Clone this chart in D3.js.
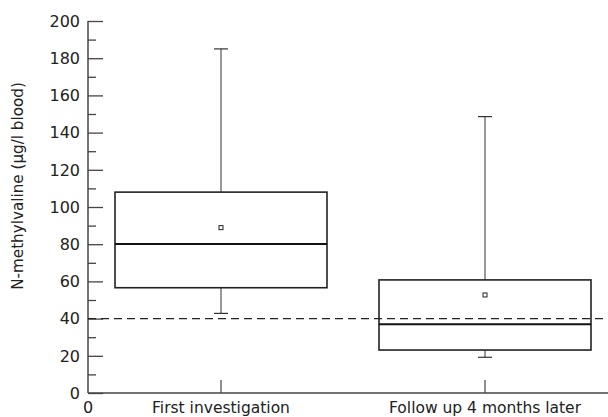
<!DOCTYPE html>
<html>
<head>
<meta charset="utf-8">
<script src="https://cdn.jsdelivr.net/npm/d3@7"></script>
<style>
body { margin: 0; background: #fff; }
text { font-family: "DejaVu Sans", sans-serif; fill: #222; }
</style>
</head>
<body>
<script>
var width = 608;
var height = 417;
var margin = {top: 21, right: 0, bottom: 24, left: 88};
var w = width - margin.left - margin.right;
var h = height - margin.top - margin.bottom;

// data
var groups = ["First investigation", "Follow up 4 months later"];
var whiskerLow = [42.8, 19.2];
var q1 = [56.6, 23.1];
var medians = [80.1, 36.9];
var q3 = [108, 60.8];
var whiskerHigh = [185, 148.6];
var means = [88.9, 52.7];
var reference = 40;
var yTicks = [0, 20, 40, 60, 80, 100, 120, 140, 160, 180, 200];

var boxes = groups.map(function(g, i) {
  return {name: g, lo: whiskerLow[i], q1: q1[i], med: medians[i], q3: q3[i], hi: whiskerHigh[i], mean: means[i]};
});

var x = d3.scaleLinear().domain([0, 1]).range([133, 397]);
var y = d3.scaleLinear().domain([0, 200]).range([h, 0]);
var boxW = 212;

var svg = d3.select("body").append("svg")
  .attr("width", width)
  .attr("height", height)
  .append("g")
  .attr("transform", "translate(" + margin.left + "," + margin.top + ")");

// y axis, ticks pointing inward
var yAxis = svg.append("g").attr("class", "y axis")
  .call(d3.axisRight(y).tickValues(yTicks).tickSize(15).tickFormat(""));
yAxis.select(".domain").remove();
svg.append("g")
  .call(d3.axisRight(y).tickValues(d3.range(10, 200, 20)).tickSize(8).tickFormat(""))
  .select(".domain").remove();
svg.selectAll(".tick line").attr("stroke", "#444").attr("stroke-width", 1.3);

svg.selectAll(".ylab").data(yTicks).enter().append("text")
  .attr("x", -8)
  .attr("y", function(d) { return y(d); })
  .attr("dy", "0.36em")
  .attr("text-anchor", "end")
  .style("font-size", "16px")
  .text(function(d) { return d; });

svg.append("line").attr("x1", 0).attr("x2", 0).attr("y1", 0).attr("y2", h)
  .attr("stroke", "#444").attr("stroke-width", 1.5);
svg.append("line").attr("x1", 0).attr("x2", w).attr("y1", h).attr("y2", h)
  .attr("stroke", "#444").attr("stroke-width", 1.5);

// x ticks pointing up
svg.selectAll(".xtick").data(boxes).enter().append("line")
  .attr("x1", function(d, i) { return x(i) ; })
  .attr("x2", function(d, i) { return x(i); })
  .attr("y1", h).attr("y2", h - 13)
  .attr("stroke", "#444").attr("stroke-width", 1.2);

svg.selectAll(".xlab").data(boxes).enter().append("text")
  .attr("x", function(d, i) { return x(i); })
  .attr("y", h + 20)
  .attr("text-anchor", "middle")
  .style("font-size", "15.5px")
  .text(function(d) { return d.name; });
svg.append("text").attr("x", 0).attr("y", h + 20).attr("text-anchor", "middle")
  .style("font-size", "16px").text("0");

svg.append("text")
  .attr("transform", "translate(-65," + (186 - margin.top) + ") rotate(-90)")
  .attr("text-anchor", "middle")
  .style("font-size", "15.2px")
  .text("N-methylvaline (µg/l blood)");

// reference line
svg.append("line").attr("x1", 0).attr("x2", w)
  .attr("y1", y(reference)).attr("y2", y(reference))
  .attr("stroke", "#222").attr("stroke-width", 1.3)
  .attr("stroke-dasharray", "8,5");

var g = svg.selectAll(".box").data(boxes).enter().append("g");
var cx = function(d, i) { return x(i); };

g.append("line").attr("x1", cx).attr("x2", cx)
  .attr("y1", function(d) { return y(d.hi); }).attr("y2", function(d) { return y(d.q3); })
  .attr("stroke", "#333").attr("stroke-width", 1);
g.append("line").attr("x1", cx).attr("x2", cx)
  .attr("y1", function(d) { return y(d.q1); }).attr("y2", function(d) { return y(d.lo); })
  .attr("stroke", "#333").attr("stroke-width", 1);
["hi", "lo"].forEach(function(k) {
  g.append("line")
    .attr("x1", function(d, i) { return cx(d, i) - 7; })
    .attr("x2", function(d, i) { return cx(d, i) + 7; })
    .attr("y1", function(d) { return y(d[k]); }).attr("y2", function(d) { return y(d[k]); })
    .attr("stroke", "#333").attr("stroke-width", 1.2);
});
g.append("rect")
  .attr("x", function(d, i) { return cx(d, i) - boxW / 2; })
  .attr("width", boxW)
  .attr("y", function(d) { return y(d.q3); })
  .attr("height", function(d) { return y(d.q1) - y(d.q3); })
  .attr("fill", "none").attr("stroke", "#222").attr("stroke-width", 1.6);
g.append("line")
  .attr("x1", function(d, i) { return cx(d, i) - boxW / 2; })
  .attr("x2", function(d, i) { return cx(d, i) + boxW / 2; })
  .attr("y1", function(d) { return y(d.med); }).attr("y2", function(d) { return y(d.med); })
  .attr("stroke", "#111").attr("stroke-width", 2);
g.append("rect")
  .attr("x", function(d, i) { return cx(d, i) - 2; })
  .attr("y", function(d) { return y(d.mean) - 2; })
  .attr("width", 4).attr("height", 4)
  .attr("fill", "#fff").attr("stroke", "#222").attr("stroke-width", 1);
</script>
</body>
</html>
